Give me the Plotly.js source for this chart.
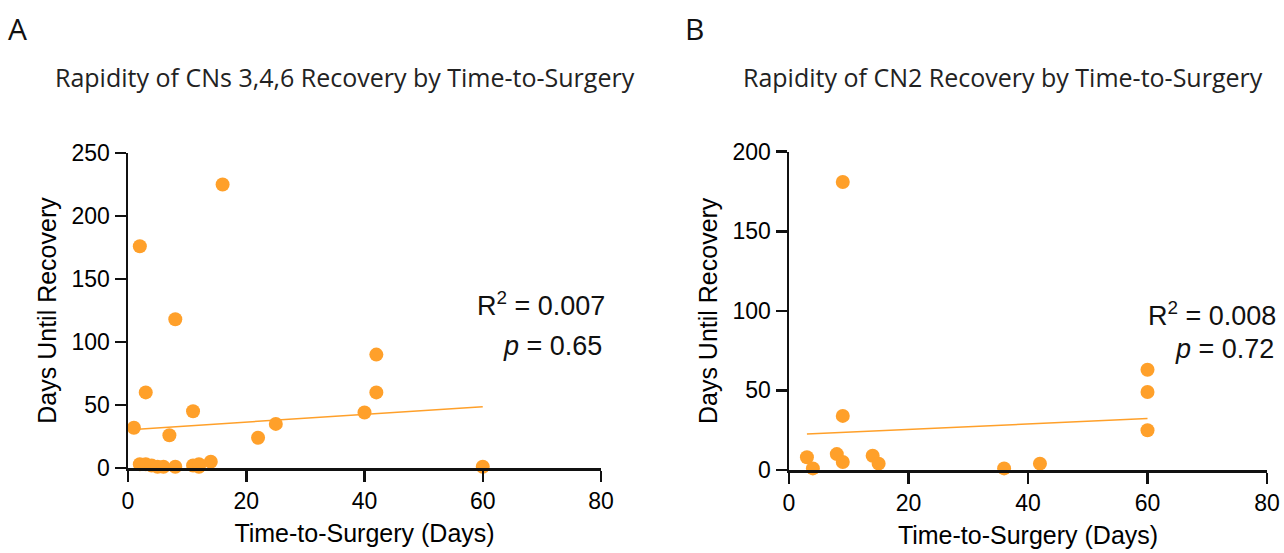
<!DOCTYPE html>
<html>
<head>
<meta charset="utf-8">
<script src="https://cdn.plot.ly/plotly-3.0.1.min.js"></script>
<style>html,body{margin:0;padding:0;background:#fff;}#chart{width:1284px;height:553px;}</style>
</head>
<body>
<div id="chart"></div>
<script>
// Panel A: CNs 3,4,6
const timeA = [16, 2, 8, 3, 11, 1, 7, 22, 25, 40, 42, 42, 60, 2, 3, 4, 5, 6, 8, 11, 12, 12, 14];
const daysA = [225, 176, 118, 60, 45, 32, 26, 24, 35, 44, 90, 60, 1, 3, 3, 2, 1, 1, 1, 2, 1, 3, 5];
const fitXA = [1, 60];
const fitYA = [30.6, 48.7];
// Panel B: CN2
const timeB = [9, 9, 3, 4, 8, 9, 14, 15, 36, 42, 60, 60, 60];
const daysB = [181, 34, 8, 1, 10, 5, 9, 4, 1, 4, 63, 49, 25];
const fitXB = [3, 60];
const fitYB = [22.6, 32.3];
const xTicks = [0, 20, 40, 60, 80];
const yTicksA = [0, 50, 100, 150, 200, 250];
const yTicksB = [0, 50, 100, 150, 200];
const titleA = "Rapidity of CNs 3,4,6 Recovery by Time-to-Surgery";
const titleB = "Rapidity of CN2 Recovery by Time-to-Surgery";
const statsA = ["R<sup>2</sup> = 0.007", "<i>p</i> = 0.65"];
const statsB = ["R<sup>2</sup> = 0.008", "<i>p</i> = 0.72"];

const orange = "#FFA02A";
const W = 1284, H = 553;
const px = v => v / W;
const py = v => (H - v) / H;

const traces = [
  {x: fitXA, y: fitYA, xaxis: "x", yaxis: "y", mode: "lines", line: {color: orange, width: 1.5}, hoverinfo: "skip", cliponaxis: false},
  {x: timeA, y: daysA, xaxis: "x", yaxis: "y", mode: "markers", marker: {color: orange, size: 14}, cliponaxis: false},
  {x: fitXB, y: fitYB, xaxis: "x2", yaxis: "y2", mode: "lines", line: {color: orange, width: 1.5}, hoverinfo: "skip", cliponaxis: false},
  {x: timeB, y: daysB, xaxis: "x2", yaxis: "y2", mode: "markers", marker: {color: orange, size: 14}, cliponaxis: false}
];

const tickFont = {family: "Liberation Sans, Arial, sans-serif", size: 23, color: "#000"};
const axTitleFont = {family: "Liberation Sans, Arial, sans-serif", size: 25, color: "#000"};

function xAxis(domain, anchor) {
  return {
    domain: domain, anchor: anchor, range: [0, 80], tickvals: xTicks, ticktext: xTicks.map(String),
    showline: true, linecolor: "#111", linewidth: 2.5, ticks: "outside", ticklen: 11, tickwidth: 2.5, tickcolor: "#111",
    showgrid: false, zeroline: false, tickfont: tickFont,
    title: {text: "Time-to-Surgery (Days)", font: axTitleFont, standoff: 12}
  };
}
function yAxis(domain, anchor, range, ticks) {
  return {
    domain: domain, anchor: anchor, range: range, tickvals: ticks, ticktext: ticks.map(String),
    showline: true, linecolor: "#111", linewidth: 2.5, ticks: "outside", ticklen: 11, tickwidth: 2.5, tickcolor: "#111",
    showgrid: false, zeroline: false, tickfont: tickFont,
    title: {text: "Days Until Recovery", font: axTitleFont, standoff: 8}
  };
}

const annFont = {family: "Liberation Sans, Arial, sans-serif", size: 27, color: "#111"};
const titleFont = {family: "Open Sans, Noto Sans, sans-serif", size: 25, color: "#222"};
const letterFont = {family: "Open Sans, Noto Sans, sans-serif", size: 30, color: "#111"};

const annotations = [
  {text: statsA[0], xref: "paper", yref: "paper", x: px(607), y: py(304), xanchor: "right", yanchor: "middle", showarrow: false, font: annFont},
  {text: statsA[1], xref: "paper", yref: "paper", x: px(604), y: py(346), xanchor: "right", yanchor: "middle", showarrow: false, font: annFont},
  {text: statsB[0], xref: "paper", yref: "paper", x: px(1278), y: py(314), xanchor: "right", yanchor: "middle", showarrow: false, font: annFont},
  {text: statsB[1], xref: "paper", yref: "paper", x: px(1276), y: py(349), xanchor: "right", yanchor: "middle", showarrow: false, font: annFont},
  {text: titleA, xref: "paper", yref: "paper", x: px(345), y: py(77), xanchor: "center", yanchor: "middle", showarrow: false, font: titleFont},
  {text: titleB, xref: "paper", yref: "paper", x: px(1003), y: py(77), xanchor: "center", yanchor: "middle", showarrow: false, font: titleFont},
  {text: "A", xref: "paper", yref: "paper", x: px(6), y: py(29), xanchor: "left", yanchor: "middle", showarrow: false, font: letterFont},
  {text: "B", xref: "paper", yref: "paper", x: px(683), y: py(29), xanchor: "left", yanchor: "middle", showarrow: false, font: letterFont}
];

const layout = {
  width: W, height: H, autosize: false,
  margin: {l: 0, r: 0, t: 0, b: 0},
  paper_bgcolor: "#fff", plot_bgcolor: "#fff",
  showlegend: false,
  xaxis: xAxis([px(128), px(601)], "y"),
  yaxis: yAxis([py(468), py(153)], "x", [0, 250], yTicksA),
  xaxis2: xAxis([px(789), px(1267)], "y2"),
  yaxis2: yAxis([py(470), py(151.7)], "x2", [0, 200], yTicksB),
  annotations: annotations
};

Plotly.newPlot("chart", traces, layout, {displayModeBar: false, staticPlot: true});
</script>
</body>
</html>
